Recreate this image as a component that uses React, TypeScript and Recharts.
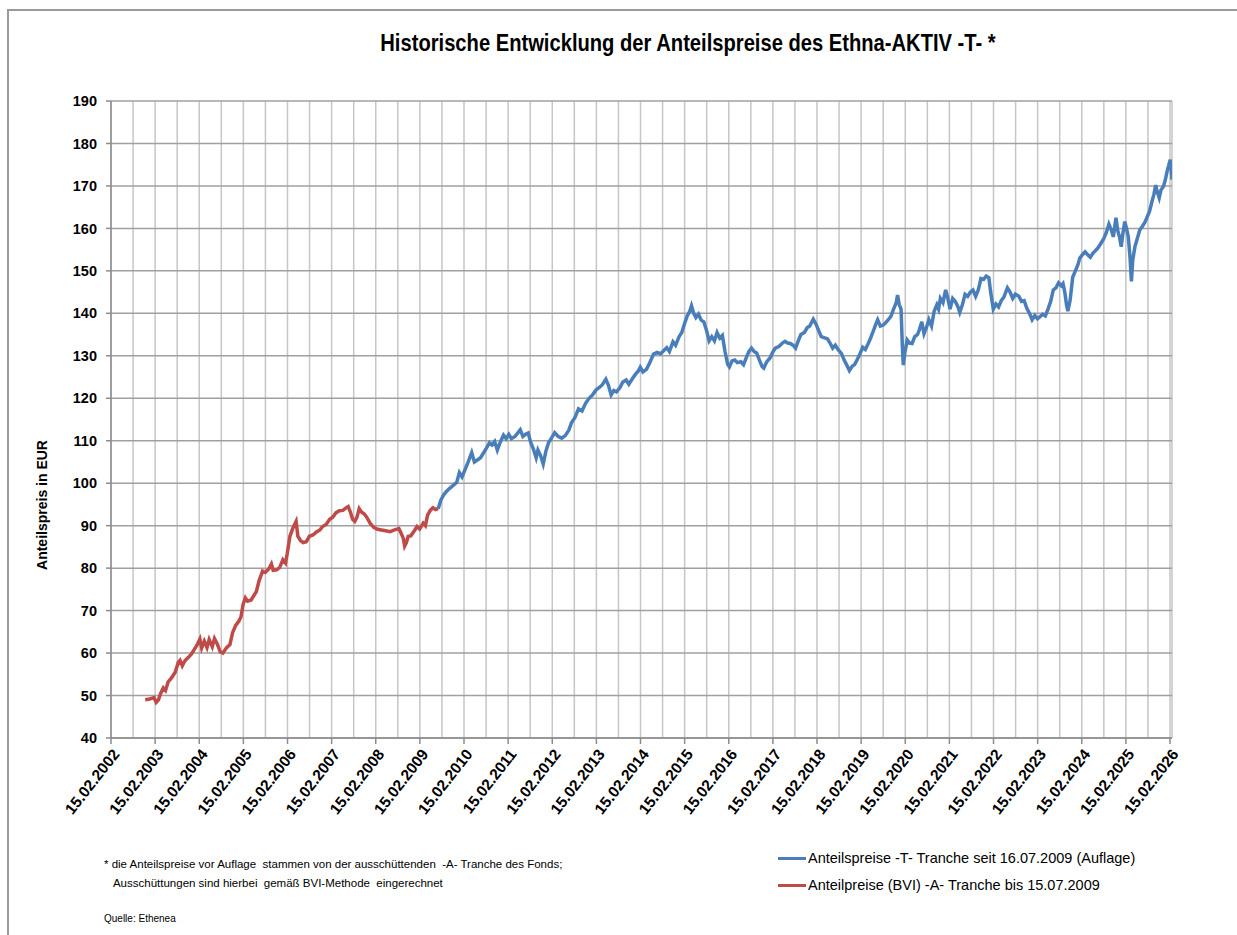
import { LineChart, Line, XAxis, YAxis, CartesianGrid } from 'recharts';

// Anteilspreise -A- Tranche (BVI), bis 15.07.2009 – Jahr als Dezimalzahl
const aYears = [
  2002.9, 2003.0, 2003.1, 2003.15, 2003.2, 2003.25, 2003.31, 2003.36, 2003.42, 2003.5,
  2003.58, 2003.65, 2003.69, 2003.74, 2003.8, 2003.88, 2003.95, 2004.02, 2004.08, 2004.14,
  2004.18, 2004.24, 2004.3, 2004.35, 2004.42, 2004.47, 2004.53, 2004.6, 2004.66, 2004.74,
  2004.82, 2004.88, 2004.95, 2005.02, 2005.07, 2005.12, 2005.17, 2005.22, 2005.3, 2005.36,
  2005.42, 2005.48, 2005.56, 2005.62, 2005.7, 2005.76, 2005.8, 2005.88, 2005.95, 2006.02,
  2006.08, 2006.12, 2006.18, 2006.25, 2006.32, 2006.36, 2006.42, 2006.48, 2006.55, 2006.62,
  2006.7, 2006.78, 2006.86, 2006.92, 2007.0, 2007.08, 2007.15, 2007.22, 2007.3, 2007.38,
  2007.45, 2007.5, 2007.55, 2007.6, 2007.65, 2007.7, 2007.75, 2007.8, 2007.86, 2007.92,
  2008.0, 2008.08, 2008.15, 2008.25, 2008.35, 2008.45, 2008.55, 2008.65, 2008.7, 2008.75,
  2008.78, 2008.82, 2008.86, 2008.92, 2009.0, 2009.06, 2009.12, 2009.2, 2009.25, 2009.3,
  2009.36, 2009.42, 2009.48, 2009.54,
];
const aPrices = [
  49.0, 49.2, 49.5, 48.4, 49.0, 50.5, 51.8, 51.2, 53.2, 54.2,
  55.5, 57.8, 58.3, 57.0, 58.2, 59.0, 59.8, 61.0, 62.0, 63.3,
  61.2, 62.8, 61.3, 63.2, 61.5, 63.4, 62.2, 60.3, 60.0, 61.2,
  62.0, 64.8, 66.5, 67.5, 68.5, 71.5, 73.0, 72.2, 72.5, 73.5,
  74.5, 77.0, 79.3, 79.0, 79.8, 81.0, 79.5, 79.6, 80.2, 82.0,
  81.2, 83.5, 87.5, 89.5, 91.0, 87.5, 86.5, 86.0, 86.2, 87.5,
  87.8, 88.5, 89.0, 89.8, 90.3, 91.5, 92.0, 93.0, 93.5, 93.6,
  94.2, 94.5, 93.2, 91.5, 91.0, 92.0, 94.0, 93.2, 92.8, 92.0,
  90.5, 89.6, 89.2, 89.0, 88.8, 88.6, 89.0, 89.3, 88.2, 87.0,
  85.2, 86.0, 87.5, 87.6, 88.8, 89.8, 89.2, 90.6, 90.0, 92.5,
  93.6, 94.2, 93.8, 94.0,
];

// Anteilspreise -T- Tranche seit 16.07.2009
const tYears = [
  2009.54, 2009.6, 2009.66, 2009.72, 2009.8, 2009.88, 2009.96, 2010.02, 2010.08, 2010.14,
  2010.22, 2010.3, 2010.36, 2010.42, 2010.5, 2010.56, 2010.62, 2010.7, 2010.76, 2010.82,
  2010.88, 2010.94, 2011.02, 2011.08, 2011.14, 2011.2, 2011.28, 2011.34, 2011.4, 2011.46,
  2011.52, 2011.58, 2011.64, 2011.7, 2011.76, 2011.8, 2011.86, 2011.92, 2011.98, 2012.04,
  2012.1, 2012.18, 2012.26, 2012.34, 2012.42, 2012.5, 2012.56, 2012.64, 2012.72, 2012.8,
  2012.88, 2012.96, 2013.04, 2013.12, 2013.2, 2013.26, 2013.34, 2013.4, 2013.46, 2013.52,
  2013.58, 2013.66, 2013.72, 2013.8, 2013.86, 2013.94, 2014.0, 2014.08, 2014.12, 2014.18,
  2014.26, 2014.34, 2014.42, 2014.5, 2014.58, 2014.66, 2014.72, 2014.78, 2014.86, 2014.92,
  2015.0, 2015.06, 2015.12, 2015.18, 2015.24, 2015.28, 2015.33, 2015.38, 2015.44, 2015.5,
  2015.56, 2015.62, 2015.68, 2015.74, 2015.8, 2015.86, 2015.92, 2015.98, 2016.04, 2016.1,
  2016.14, 2016.2, 2016.26, 2016.32, 2016.4, 2016.46, 2016.52, 2016.58, 2016.64, 2016.7,
  2016.76, 2016.82, 2016.88, 2016.92, 2016.98, 2017.06, 2017.12, 2017.18, 2017.26, 2017.34,
  2017.4, 2017.46, 2017.52, 2017.58, 2017.64, 2017.7, 2017.76, 2017.84, 2017.9, 2017.96,
  2018.04, 2018.1, 2018.16, 2018.22, 2018.3, 2018.36, 2018.42, 2018.48, 2018.54, 2018.6,
  2018.68, 2018.74, 2018.8, 2018.86, 2018.92, 2018.98, 2019.04, 2019.1, 2019.16, 2019.22,
  2019.28, 2019.34, 2019.4, 2019.46, 2019.5, 2019.56, 2019.62, 2019.68, 2019.74, 2019.8,
  2019.86, 2019.92, 2019.95, 2019.99, 2020.03, 2020.06, 2020.08, 2020.12, 2020.17, 2020.22,
  2020.28, 2020.34, 2020.4, 2020.44, 2020.5, 2020.55, 2020.6, 2020.66, 2020.72, 2020.78,
  2020.84, 2020.88, 2020.92, 2020.98, 2021.04, 2021.08, 2021.14, 2021.2, 2021.26, 2021.32,
  2021.36, 2021.42, 2021.48, 2021.54, 2021.6, 2021.66, 2021.72, 2021.78, 2021.84, 2021.9,
  2021.96, 2022.02, 2022.06, 2022.12, 2022.18, 2022.24, 2022.3, 2022.36, 2022.44, 2022.5,
  2022.56, 2022.62, 2022.7, 2022.76, 2022.82, 2022.88, 2022.94, 2023.0, 2023.06, 2023.12,
  2023.18, 2023.24, 2023.3, 2023.36, 2023.42, 2023.48, 2023.54, 2023.6, 2023.66, 2023.7,
  2023.74, 2023.78, 2023.81, 2023.86, 2023.92, 2023.98, 2024.04, 2024.08, 2024.14, 2024.2,
  2024.26, 2024.32, 2024.38, 2024.44, 2024.5, 2024.56, 2024.62, 2024.68, 2024.74, 2024.8,
  2024.84, 2024.9, 2024.94, 2024.98, 2025.02, 2025.06, 2025.1, 2025.14, 2025.18, 2025.22,
  2025.25, 2025.28, 2025.33, 2025.38, 2025.44, 2025.5, 2025.56, 2025.6, 2025.66, 2025.72,
  2025.76, 2025.8, 2025.84, 2025.88, 2025.92, 2025.98, 2026.02, 2026.06, 2026.1, 2026.13,
  2026.15, 2026.17,
];
const tPrices = [
  94.0, 96.0, 97.2, 98.0, 98.8, 99.5, 100.2, 102.5, 101.5, 103.0,
  105.0, 107.2, 105.0, 105.4, 106.0, 107.0, 108.0, 109.5, 109.0, 109.8,
  107.8, 109.5, 111.3, 110.5, 111.5, 110.5, 111.0, 111.8, 112.6, 111.0,
  111.5, 111.8, 109.5, 108.0, 106.0, 107.8, 106.5, 104.5, 107.5, 109.5,
  110.5, 111.9, 111.0, 110.6, 111.2, 112.5, 114.2, 115.5, 117.5, 117.0,
  118.8, 120.0, 120.8, 122.0, 122.6, 123.2, 124.5, 123.0, 120.8, 121.8,
  121.5, 122.5, 123.8, 124.3, 123.3, 124.6, 125.5, 126.5, 127.3, 126.2,
  126.8, 128.5, 130.4, 130.8, 130.5, 131.3, 131.9, 131.0, 133.3, 132.5,
  134.5, 135.5, 137.5, 139.3, 140.5, 141.8, 140.0, 139.0, 139.8, 138.4,
  138.0, 136.0, 133.5, 134.5, 133.5, 135.5, 134.2, 134.8, 131.0, 128.0,
  127.4, 128.8, 129.0, 128.4, 128.6, 127.9, 129.5, 131.0, 131.8, 131.0,
  130.6, 129.0, 127.5, 127.1, 128.5, 129.5, 130.8, 131.8, 132.2, 133.0,
  133.4, 133.0, 132.9, 132.5, 131.8, 133.5, 135.0, 135.5, 136.6, 137.0,
  138.6, 137.5, 136.0, 134.5, 134.2, 134.0, 133.0, 131.8, 132.5, 131.5,
  130.5, 129.0, 127.8, 126.5, 127.5, 128.0, 129.2, 130.5, 132.0, 131.5,
  132.8, 134.2, 135.8, 137.5, 138.5, 137.0, 137.2, 137.8, 138.5, 139.3,
  141.0, 142.5, 144.3, 142.0, 141.0, 132.0, 127.8, 131.0, 133.7, 133.0,
  132.9, 134.5, 135.0, 136.0, 138.0, 135.2, 136.5, 138.5, 137.0, 140.5,
  142.0, 141.0, 143.5, 142.5, 145.5, 144.0, 141.0, 143.5, 142.8, 141.5,
  140.2, 142.0, 144.5, 144.0, 145.0, 145.5, 144.0, 145.5, 148.2, 148.0,
  148.8, 148.4, 145.0, 141.0, 142.2, 141.5, 143.0, 143.8, 146.0, 145.0,
  143.5, 144.5, 144.0, 142.8, 143.0, 141.2, 140.0, 138.5, 139.5, 138.7,
  139.2, 139.8, 139.4, 141.0, 142.8, 145.5, 146.0, 147.2, 146.5, 147.0,
  145.0, 142.0, 140.5, 143.0, 148.5, 150.0, 151.5, 153.0, 153.8, 154.5,
  153.8, 153.2, 154.2, 154.8, 155.5, 156.5, 157.5, 159.0, 161.0, 159.5,
  158.0, 162.5, 159.5, 158.0, 155.7, 159.0, 161.6, 160.0, 158.0, 153.0,
  147.5, 152.5, 155.7, 157.5, 159.6, 160.5, 161.5, 162.5, 164.0, 166.5,
  168.0, 170.2, 168.5, 167.2, 169.0, 170.0, 171.5, 173.5, 175.0, 176.2,
  174.0, 171.5,
];

const yTicks = [40, 50, 60, 70, 80, 90, 100, 110, 120, 130, 140, 150, 160, 170, 180, 190];
const labelYears = [
  2002, 2003, 2004, 2005, 2006, 2007, 2008, 2009, 2010, 2011, 2012, 2013,
  2014, 2015, 2016, 2017, 2018, 2019, 2020, 2021, 2022, 2023, 2024, 2025, 2026,
];

const FEB15 = 0.125; // 15.02. als Jahresbruchteil
const AUG15 = 0.625;

const aData = aYears.map((x, i) => ({ x, v: aPrices[i] }));
const tData = tYears.map((x, i) => ({ x, v: tPrices[i] }));

// Gitterlinien halbjährlich, Beschriftung nur am 15.02.
const xTicks: number[] = [];
labelYears.forEach((y, i) => {
  xTicks.push(y + FEB15);
  if (i < labelYears.length - 1) xTicks.push(y + AUG15);
});

const SANS = '"Liberation Sans", Arial, sans-serif';
const BLUE = '#4A7EBB';
const RED = '#BE4B48';

function XTick(props: any) {
  const { x, y, payload } = props;
  const v = payload.value as number;
  const year = Math.floor(v);
  if (Math.abs(v - year - FEB15) > 0.01) return null;
  const tx = x + 5;
  const ty = y + 13;
  return (
    <g>
      <line x1={x} y1={y} x2={x} y2={y + 6} stroke="#8c8c8c" strokeWidth={1.5} />
      <text
        x={tx}
        y={ty}
        dy="0.35em"
        textAnchor="end"
        transform={`rotate(-52, ${tx}, ${ty})`}
        fontFamily={SANS}
        fontWeight="bold"
        fontSize={15.5}
        fill="#000"
      >
        {`15.02.${year}`}
      </text>
    </g>
  );
}

export default function App() {
  return (
    <div
      style={{
        position: 'absolute',
        left: 0,
        top: 0,
        width: 1237,
        height: 935,
        background: '#fff',
        overflow: 'hidden',
      }}
    >
      <div
        style={{
          position: 'absolute',
          left: 7,
          top: 9,
          width: 1250,
          height: 950,
          borderLeft: '2px solid #9a9a9a',
          borderTop: '2px solid #9a9a9a',
        }}
      />
      <div
        style={{
          position: 'absolute',
          left: 288,
          width: 800,
          top: 29,
          textAlign: 'center',
          fontFamily: SANS,
          fontWeight: 'bold',
          fontSize: 24,
          color: '#000',
          transform: 'scaleX(0.84)',
          transformOrigin: '400px 0',
          whiteSpace: 'nowrap',
        }}
      >
        Historische Entwicklung der Anteilspreise des Ethna-AKTIV -T- *
      </div>

      <LineChart
        width={1237}
        height={935}
        margin={{ top: 101, right: 65, bottom: 107, left: 51 }}
      >
        <CartesianGrid horizontal={false} stroke="#c6c6c6" strokeWidth={1.5} />
        <CartesianGrid vertical={false} stroke="#a0a0a0" strokeWidth={1.5} />
        <XAxis
          dataKey="x"
          type="number"
          domain={[2002 + FEB15, 2026.17]}
          ticks={xTicks}
          interval={0}
          allowDataOverflow
          height={90}
          tickLine={false}
          tickSize={0}
          tickMargin={0}
          axisLine={{ stroke: '#8c8c8c', strokeWidth: 1.5 }}
          tick={<XTick />}
        />
        <YAxis
          type="number"
          domain={[40, 190]}
          ticks={yTicks}
          interval={0}
          width={60}
          tickSize={5}
          tickMargin={9}
          axisLine={{ stroke: '#8c8c8c', strokeWidth: 1.5 }}
          tickLine={{ stroke: '#8c8c8c', strokeWidth: 1.5 }}
          tick={{ fontFamily: SANS, fontWeight: 'bold', fontSize: 14.5, fill: '#000' }}
        />
        <Line
          data={aData}
          dataKey="v"
          type="linear"
          stroke={RED}
          strokeWidth={3.5}
          dot={false}
          isAnimationActive={false}
        />
        <Line
          data={tData}
          dataKey="v"
          type="linear"
          stroke={BLUE}
          strokeWidth={3.5}
          dot={false}
          isAnimationActive={false}
        />
      </LineChart>

      <div
        style={{
          position: 'absolute',
          left: 42,
          top: 505,
          transform: 'translate(-50%, -50%) rotate(-90deg)',
          whiteSpace: 'nowrap',
          fontFamily: SANS,
          fontWeight: 'bold',
          fontSize: 14,
          color: '#000',
        }}
      >
        Anteilspreis in EUR
      </div>

      {/* Legende */}
      {[
        { color: BLUE, text: 'Anteilspreise -T- Tranche seit 16.07.2009 (Auflage)', top: 850 },
        { color: RED, text: 'Anteilpreise (BVI) -A- Tranche bis 15.07.2009', top: 877 },
      ].map((item) => (
        <div
          key={item.text}
          style={{
            position: 'absolute',
            left: 778,
            top: item.top,
            display: 'flex',
            alignItems: 'center',
            fontFamily: SANS,
            fontSize: 14.5,
            color: '#000',
            whiteSpace: 'nowrap',
          }}
        >
          <span style={{ display: 'inline-block', width: 28, height: 3, background: item.color, marginRight: 2 }} />
          {item.text}
        </div>
      ))}

      <div
        style={{
          position: 'absolute',
          left: 104,
          top: 855,
          fontFamily: SANS,
          fontSize: 11.5,
          lineHeight: '19px',
          color: '#000',
          whiteSpace: 'pre',
        }}
      >
        {'* die Anteilspreise vor Auflage  stammen von der ausschüttenden  -A- Tranche des Fonds;\n   Ausschüttungen sind hierbei  gemäß BVI-Methode  eingerechnet'}
      </div>
      <div
        style={{
          position: 'absolute',
          left: 104,
          top: 913,
          fontFamily: SANS,
          fontSize: 10,
          color: '#000',
        }}
      >
        Quelle: Ethenea
      </div>
    </div>
  );
}
